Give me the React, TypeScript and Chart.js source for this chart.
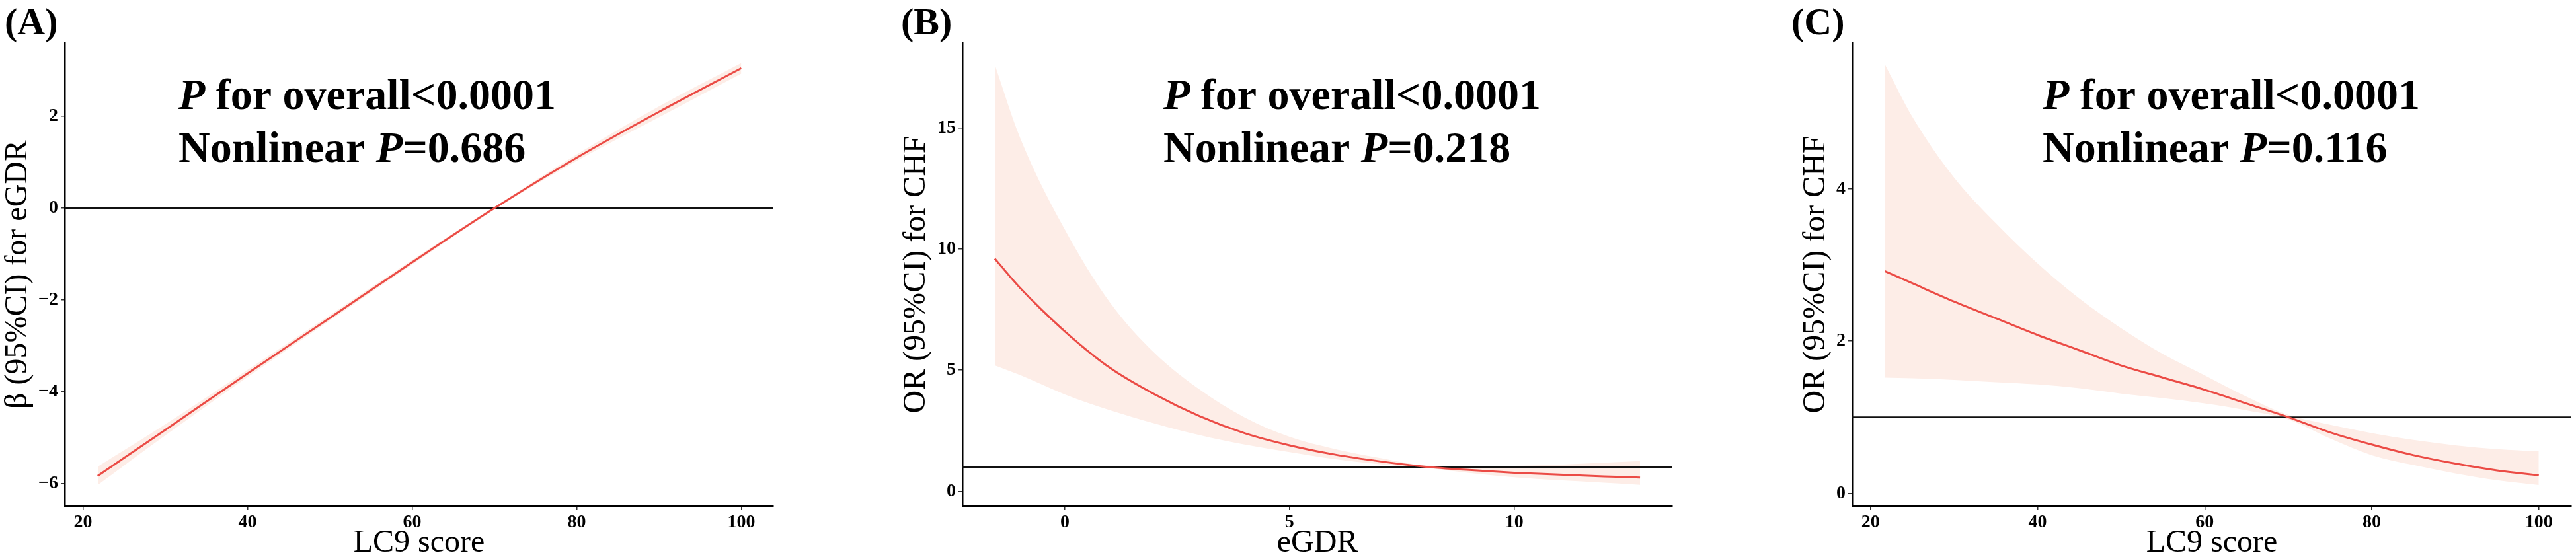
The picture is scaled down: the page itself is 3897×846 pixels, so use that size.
import React, { useEffect, useRef } from "react";
import { Chart, registerables } from "chart.js";

Chart.register(...registerables);

const FONT = '"Liberation Serif", "Times New Roman", Times, serif';
const RED = "#EB4B45";
const BAND = "#FDEDE7";

// ---------- Panel A: LC9 score vs beta for eGDR ----------
const lc9A = [21.8, 30, 40, 50, 60, 70, 80, 90, 100];
const betaA = [-5.83, -4.83, -3.6, -2.39, -1.18, 0.0, 1.1, 2.1, 3.05];
const betaLowerA = [-6.03, -4.95, -3.68, -2.45, -1.23, -0.03, 1.03, 1.98, 2.93];
const betaUpperA = [-5.63, -4.71, -3.52, -2.33, -1.13, 0.03, 1.17, 2.22, 3.16];
const xTicksA = [20, 40, 60, 80, 100];
const yTicksA = [-6, -4, -2, 0, 2];

// ---------- Panel B: eGDR vs OR for CHF ----------
const egdrB = [-1.56, -1, 0, 1, 2, 3, 4, 5, 6, 7, 8, 9, 10, 11, 12, 12.8];
const orB = [9.6, 8.4, 6.6, 5.1, 4.0, 3.1, 2.4, 1.9, 1.52, 1.24, 1.02, 0.88, 0.77, 0.69, 0.62, 0.57];
const orLowerB = [5.2, 4.8, 4.0, 3.35, 2.8, 2.32, 1.93, 1.62, 1.33, 1.12, 0.97, 0.76, 0.58, 0.46, 0.36, 0.27];
const orUpperB = [17.6, 14.6, 10.8, 7.8, 5.7, 4.2, 3.05, 2.25, 1.75, 1.38, 1.07, 1.02, 1.05, 1.1, 1.18, 1.25];
const xTicksB = [0, 5, 10];
const yTicksB = [0, 5, 10, 15];

// ---------- Panel C: LC9 score vs OR for CHF ----------
const lc9C = [21.7, 25, 30, 35, 40, 45, 50, 55, 60, 65, 70, 75, 80, 85, 90, 95, 100];
const orC = [2.92, 2.76, 2.52, 2.3, 2.08, 1.88, 1.68, 1.52, 1.36, 1.18, 1.0, 0.8, 0.64, 0.5, 0.39, 0.3, 0.235];
const orLowerC = [1.52, 1.51, 1.49, 1.46, 1.43, 1.38, 1.31, 1.25, 1.18, 1.09, 0.97, 0.72, 0.5, 0.37, 0.26, 0.17, 0.107];
const orUpperC = [5.64, 4.95, 4.15, 3.55, 3.02, 2.56, 2.17, 1.83, 1.55, 1.27, 1.03, 0.9, 0.79, 0.7, 0.63, 0.58, 0.55];
const xTicksC = [20, 40, 60, 80, 100];
const yTicksC = [0, 2, 4];

const tags = ["(A)", "(B)", "(C)"];
const xTitles = ["LC9 score", "eGDR", "LC9 score"];
const yTitles = ["\u03B2 (95%CI) for eGDR", "OR (95%CI) for CHF", "OR (95%CI) for CHF"];
const pOverall = ["<0.0001", "<0.0001", "<0.0001"];
const pNonlinear = ["0.686", "0.218", "0.116"];
const refValues = [0, 1, 1];

type Panel = {
  x: number[];
  y: number[];
  lo: number[];
  hi: number[];
  xTicks: number[];
  yTicks: number[];
  xRange: [number, number];
  yRange: [number, number];
  idx: number;
  // layout
  left: number;
  width: number;
  plotLeft: number;
  plotRight: number;
  yTitlePad: number;
  tagX: number;
  annX: number;
};

const H = 846;
const PLOT_TOP = 65;
const PLOT_BOTTOM = 766;

const panels: Panel[] = [
  {
    x: lc9A, y: betaA, lo: betaLowerA, hi: betaUpperA,
    xTicks: xTicksA, yTicks: yTicksA, xRange: [17.8, 103.9], yRange: [-6.49, 3.6], idx: 0,
    left: 0, width: 1300, plotLeft: 98, plotRight: 1170, yTitlePad: 3, tagX: 7, annX: 270,
  },
  {
    x: egdrB, y: orB, lo: orLowerB, hi: orUpperB,
    xTicks: xTicksB, yTicks: yTicksB, xRange: [-2.28, 13.52], yRange: [-0.61, 18.5], idx: 1,
    left: 1300, width: 1300, plotLeft: 156, plotRight: 1230, yTitlePad: 62, tagX: 63, annX: 460,
  },
  {
    x: lc9C, y: orC, lo: orLowerC, hi: orUpperC,
    xTicks: xTicksC, yTicks: yTicksC, xRange: [17.8, 103.9], yRange: [-0.17, 5.92], idx: 2,
    left: 2600, width: 1297, plotLeft: 202, plotRight: 1290, yTitlePad: 123, tagX: 110, annX: 490,
  },
];

const zip = (xs: number[], ys: number[]) => xs.map((v, i) => ({ x: v, y: ys[i] }));
const fmt = (v: number) => (v < 0 ? "\u2212" + Math.abs(v) : String(v));

function textPlugin(p: Panel) {
  return {
    id: "panelText" + p.idx,
    afterDraw(chart: any) {
      const ctx = chart.ctx as CanvasRenderingContext2D;
      ctx.save();
      ctx.fillStyle = "#000";
      ctx.textAlign = "left";
      ctx.textBaseline = "alphabetic";
      ctx.font = `bold 58px ${FONT}`;
      ctx.fillText(tags[p.idx], p.tagX, 52);

      const size = 66;
      let x = p.annX;
      ctx.font = `italic bold ${size}px ${FONT}`;
      ctx.fillText("P", x, 165);
      x += ctx.measureText("P").width;
      ctx.font = `bold ${size}px ${FONT}`;
      ctx.fillText(" for overall" + pOverall[p.idx], x, 165);

      x = p.annX;
      ctx.font = `bold ${size}px ${FONT}`;
      const pre = "Nonlinear ";
      ctx.fillText(pre, x, 245);
      x += ctx.measureText(pre).width;
      ctx.font = `italic bold ${size}px ${FONT}`;
      ctx.fillText("P", x, 245);
      x += ctx.measureText("P").width;
      ctx.font = `bold ${size}px ${FONT}`;
      ctx.fillText("=" + pNonlinear[p.idx], x, 245);
      ctx.restore();
    },
  };
}

function makeChart(canvas: HTMLCanvasElement, p: Panel) {
  const ref = refValues[p.idx];
  const tickFont = { family: FONT, size: 28, weight: "bold" as const };
  const titleFont = { family: FONT, size: 48, lineHeight: 1 };
  return new Chart(canvas, {
    type: "line",
    data: {
      datasets: [
        {
          label: "estimate",
          data: zip(p.x, p.y),
          borderColor: RED,
          borderWidth: 3,
          pointRadius: 0,
          fill: false,
          cubicInterpolationMode: "monotone",
        },
        {
          label: "reference",
          data: [
            { x: p.xRange[0], y: ref },
            { x: p.xRange[1], y: ref },
          ],
          borderColor: "#111",
          borderWidth: 2,
          pointRadius: 0,
          fill: false,
        },
        {
          label: "upper",
          data: zip(p.x, p.hi),
          borderColor: "rgba(0,0,0,0)",
          borderWidth: 0,
          backgroundColor: BAND,
          pointRadius: 0,
          fill: "+1",
          cubicInterpolationMode: "monotone",
        },
        {
          label: "lower",
          data: zip(p.x, p.lo),
          borderColor: "rgba(0,0,0,0)",
          borderWidth: 0,
          pointRadius: 0,
          fill: false,
          cubicInterpolationMode: "monotone",
        },
      ],
    },
    options: {
      animation: false,
      responsive: false,
      devicePixelRatio: 1,
      layout: { padding: { top: PLOT_TOP, right: p.width - p.plotRight, left: 0, bottom: 0 } },
      plugins: {
        legend: { display: false },
        tooltip: { enabled: false },
        filler: { drawTime: "beforeDatasetsDraw" },
      } as any,
      scales: {
        x: {
          type: "linear",
          min: p.xRange[0],
          max: p.xRange[1],
          afterFit: (s: any) => {
            s.height = H - PLOT_BOTTOM;
          },
          afterBuildTicks: (s: any) => {
            s.ticks = p.xTicks.map((v) => ({ value: v }));
          },
          grid: { drawOnChartArea: false, drawTicks: true, tickLength: 6, color: "#333", lineWidth: 1.5 },
          border: { display: true, color: "#000", width: 2.5 },
          ticks: {
            font: tickFont,
            color: "#000",
            padding: 2,
            maxRotation: 0,
            autoSkip: false,
            callback: (v: any) => fmt(Number(v)),
          },
          title: {
            display: true,
            text: xTitles[p.idx],
            font: titleFont,
            color: "#000",
            padding: { top: 0, bottom: 0 },
          },
        },
        y: {
          type: "linear",
          min: p.yRange[0],
          max: p.yRange[1],
          afterFit: (s: any) => {
            s.width = p.plotLeft;
          },
          afterBuildTicks: (s: any) => {
            s.ticks = p.yTicks.map((v) => ({ value: v }));
          },
          grid: { drawOnChartArea: false, drawTicks: true, tickLength: 6, color: "#333", lineWidth: 1.5 },
          border: { display: true, color: "#000", width: 2.5 },
          ticks: {
            font: tickFont,
            color: "#000",
            padding: 4,
            autoSkip: false,
            callback: (v: any) => fmt(Number(v)),
          },
          title: {
            display: true,
            text: yTitles[p.idx],
            font: titleFont,
            color: "#000",
            padding: { top: p.yTitlePad, bottom: 0 },
          },
        },
      },
    } as any,
    plugins: [textPlugin(p)],
  });
}

export default function App() {
  const refs = [
    useRef<HTMLCanvasElement>(null),
    useRef<HTMLCanvasElement>(null),
    useRef<HTMLCanvasElement>(null),
  ];

  useEffect(() => {
    const charts = panels.map((p, i) => makeChart(refs[i].current as HTMLCanvasElement, p));
    return () => charts.forEach((c) => c.destroy());
  }, []);

  return (
    <div
      style={{
        position: "absolute",
        left: 0,
        top: 0,
        width: 3897,
        height: H,
        background: "#fff",
        overflow: "hidden",
      }}
    >
      {panels.map((p, i) => (
        <canvas
          key={i}
          ref={refs[i]}
          width={p.width}
          height={H}
          style={{ position: "absolute", left: p.left, top: 0, width: p.width, height: H }}
        />
      ))}
    </div>
  );
}
